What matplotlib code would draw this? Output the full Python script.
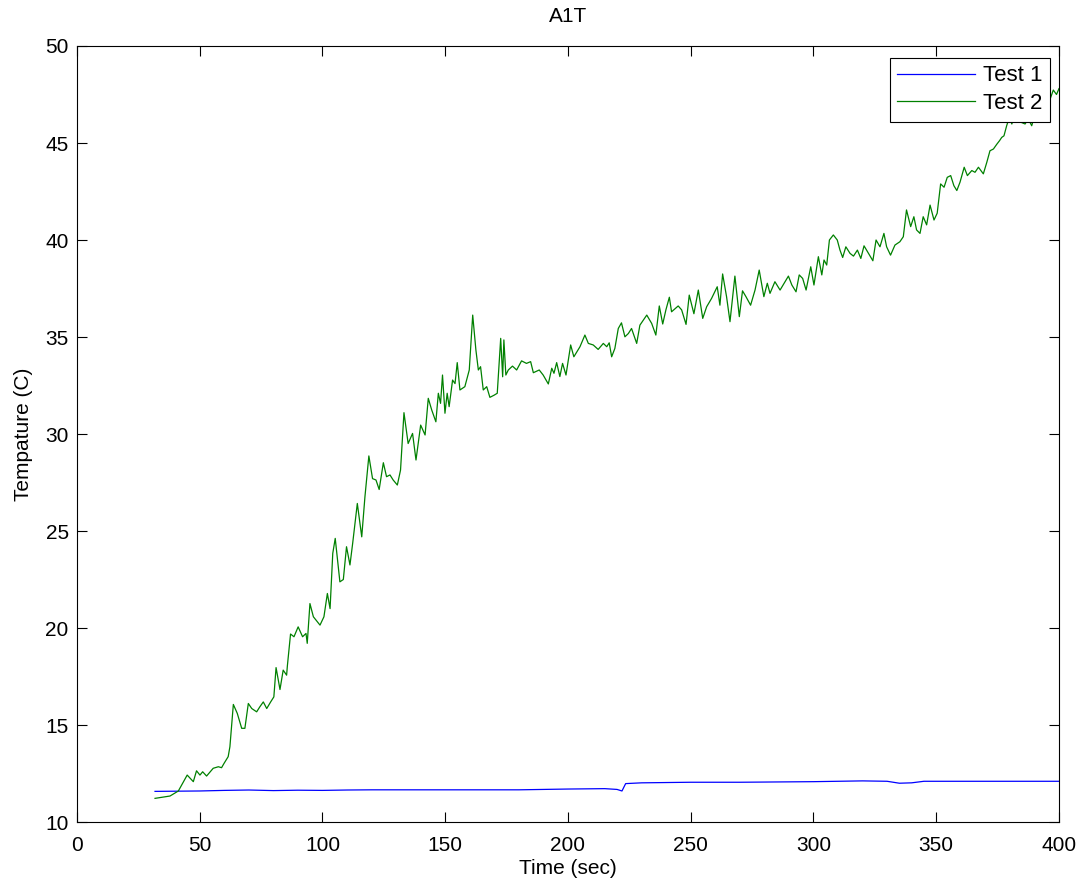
import matplotlib
matplotlib.use("Agg")
import matplotlib.pyplot as plt

plt.rcParams['font.family'] = ['Liberation Sans', 'DejaVu Sans']

# Test 1 (blue)
t1 = [31.8, 50, 60, 70, 80, 90, 100, 110, 120, 150, 180, 200, 215, 220, 222,
      223.5, 230, 250, 270, 300, 320, 330, 335, 340, 345, 370, 400]
temp1 = [11.58, 11.6, 11.63, 11.65, 11.62, 11.64, 11.63, 11.65, 11.66, 11.66, 11.66,
         11.7, 11.72, 11.68, 11.6, 11.98, 12.02, 12.05, 12.05, 12.08, 12.12, 12.1,
         12.0, 12.02, 12.1, 12.1, 12.1]

# Test 2 (green)
t2 = [31.8, 37.9, 41.3, 44.9, 47.4, 48.7, 50.1, 51.2, 52.8, 55.5, 57.6, 58.9, 59.9,
      61.6, 62.3, 63.7, 65.3, 67.1, 68.4, 69.8, 71.2, 73.2, 74.5, 75.9, 77.3, 78.9,
      80.2, 81.1, 82.7, 84.0, 85.4, 85.7, 87.0, 88.4, 90.1, 91.9, 93.3, 93.8, 94.9,
      96.3, 99.0, 100.6, 102.0, 103.1, 104.2, 105.2, 107.1, 108.5, 109.8, 111.2,
      112.3, 114.2, 116.0, 117.3, 118.9, 120.4, 121.8, 123.1, 124.8, 126.1, 127.5,
      128.8, 130.5, 131.8, 133.2, 134.9, 136.7, 138.1, 140.0, 141.8, 143.1, 144.5,
      146.2, 147.2, 148.1, 148.9, 149.9, 150.8, 151.6, 153.0, 154.0, 154.9, 156.0,
      158.0, 159.8, 161.2, 162.5, 163.5, 164.4, 165.5, 166.9, 168.2, 169.9, 171.2,
      172.6, 173.4, 173.9, 174.7, 175.7, 177.4, 179.1, 181.1, 183.1, 184.8, 185.9,
      188.3, 189.9, 192.0, 193.4, 194.3, 195.4, 196.7, 197.8, 199.2, 201.1, 202.4,
      204.9, 206.9, 208.3, 210.3, 212.3, 214.4, 215.8, 216.8, 217.8, 219.1, 220.5,
      221.8, 223.2, 224.6, 225.9, 228.0, 229.3, 232.1, 234.1, 235.8, 237.2, 238.6,
      239.9, 241.3, 242.2, 244.9, 246.3, 248.1, 249.4, 251.3, 253.1, 254.9, 256.5,
      258.5, 260.8, 261.9, 263.0, 264.6, 266.0, 268.0, 269.8, 271.1, 272.5, 274.4,
      276.2, 277.9, 279.8, 281.2, 282.3, 284.3, 286.4, 288.4, 289.8, 291.2, 292.9,
      294.2, 295.6, 297.0, 298.9, 300.2, 302.0, 303.4, 304.3, 305.4, 306.5, 308.1,
      309.7, 310.8, 311.9, 313.2, 314.9, 316.3, 317.9, 319.3, 320.6, 322.0, 324.2,
      325.5, 327.1, 328.7, 329.8, 331.4, 333.2, 335.2, 336.6, 337.9, 339.6, 340.9,
      342.0, 343.4, 344.7, 346.1, 347.5, 349.1, 350.4, 351.8, 353.2, 354.5, 355.9,
      357.2, 358.4, 359.7, 361.4, 362.7, 364.5, 365.8, 367.2, 369.2, 370.6, 371.9,
      373.3, 374.7, 375.8, 376.7, 377.6, 378.7, 379.8, 380.8, 381.7, 382.8, 383.7,
      384.7, 386.2, 387.5, 388.9, 390.5, 392.0, 393.5, 395.0, 396.5, 397.7, 399.0,
      400.0]
temp2 = [11.22, 11.34, 11.6, 12.42, 12.08, 12.64, 12.42, 12.59, 12.37, 12.77, 12.85,
         12.8, 13.02, 13.37, 13.88, 16.06, 15.6, 14.83, 14.83, 16.11, 15.85, 15.68,
         15.94, 16.19, 15.85, 16.19, 16.45, 17.96, 16.83, 17.83, 17.57, 18.04, 19.69,
         19.55, 20.06, 19.55, 19.72, 19.21, 21.26, 20.58, 20.15, 20.58, 21.78, 21.0,
         23.85, 24.62, 22.38, 22.5, 24.19, 23.25, 24.36, 26.42, 24.7, 26.76, 28.87,
         27.7, 27.63, 27.14, 28.52, 27.8, 27.89, 27.63, 27.37, 28.14, 31.1, 29.51,
         30.03, 28.66, 30.46, 29.95, 31.84, 31.24, 30.63, 32.1, 31.58, 33.04, 31.07,
         32.1, 31.41, 32.78, 32.6, 33.68, 32.27, 32.44, 33.3, 36.13, 34.33, 33.3,
         33.47, 32.27, 32.44, 31.89, 32.0, 32.1, 34.93, 32.95, 34.85, 33.04, 33.3,
         33.5, 33.3, 33.77, 33.64, 33.73, 33.16, 33.3, 33.04, 32.58, 33.39, 33.13,
         33.68, 32.96, 33.64, 33.04, 34.59, 33.98, 34.5, 35.1, 34.67, 34.59, 34.36,
         34.67, 34.5, 34.7, 33.98, 34.41, 35.44, 35.73, 35.01, 35.18, 35.44, 34.67,
         35.61, 36.13, 35.7, 35.1, 36.6, 35.67, 36.4, 37.05, 36.3, 36.6, 36.4, 35.65,
         37.16, 36.2, 37.42, 35.96, 36.56, 36.99, 37.59, 36.64, 38.25, 37.08, 35.79,
         38.14, 36.05, 37.38, 37.08, 36.64, 37.42, 38.45, 37.08, 37.77, 37.25, 37.85,
         37.42, 37.85, 38.14, 37.68, 37.33, 38.2, 38.02, 37.42, 38.62, 37.68, 39.14,
         38.2, 38.97, 38.71, 40.0, 40.26, 40.0, 39.48, 39.1, 39.65, 39.31, 39.17,
         39.48, 39.05, 39.7, 39.4, 38.93, 40.0, 39.65, 40.34, 39.65, 39.22, 39.74,
         39.91, 40.17, 41.55, 40.69, 41.2, 40.52, 40.34, 41.2, 40.78, 41.8, 41.03,
         41.38, 42.89, 42.72, 43.23, 43.32, 42.8, 42.55, 42.98, 43.75, 43.32, 43.58,
         43.49, 43.75, 43.41, 44.0, 44.6, 44.69, 44.94, 45.12, 45.29, 45.37, 45.89,
         46.32, 45.98, 46.32, 46.06, 46.32, 46.06, 45.98, 46.24, 45.89, 46.6, 47.2,
         47.0, 47.6, 47.3, 47.73, 47.5, 47.8]

fig = plt.figure(figsize=(10.87, 8.88), dpi=100)
ax = fig.add_axes([0.0708, 0.0743, 0.9034, 0.8739])

ax.plot(t1, temp1, color=(0, 0, 1), lw=0.9, label='Test 1')
ax.plot(t2, temp2, color=(0, 0.5, 0), lw=0.9, label='Test 2')

ax.set_xlim(0, 400)
ax.set_ylim(10, 50)
ax.set_xticks(range(0, 401, 50))
ax.set_yticks(range(10, 51, 5))
ax.tick_params(direction='in', length=7, width=0.8, top=True, right=True,
               labelsize=15)
ax.tick_params(axis='x', pad=10)
ax.tick_params(axis='y', pad=6)

ax.set_title('A1T', fontsize=15, pad=17)
ax.set_xlabel('Time (sec)', fontsize=15, labelpad=3)
ax.set_ylabel('Tempature (C)', fontsize=15, labelpad=9)

leg = ax.legend(loc='upper right', bbox_to_anchor=(0.991, 0.985), fontsize=16,
                fancybox=False, framealpha=1, edgecolor='black',
                handlelength=3.5, borderpad=0.35, labelspacing=0.3,
                handletextpad=0.35, borderaxespad=0)
leg.get_frame().set_linewidth(0.8)

fig.savefig('out.png', dpi=100)
